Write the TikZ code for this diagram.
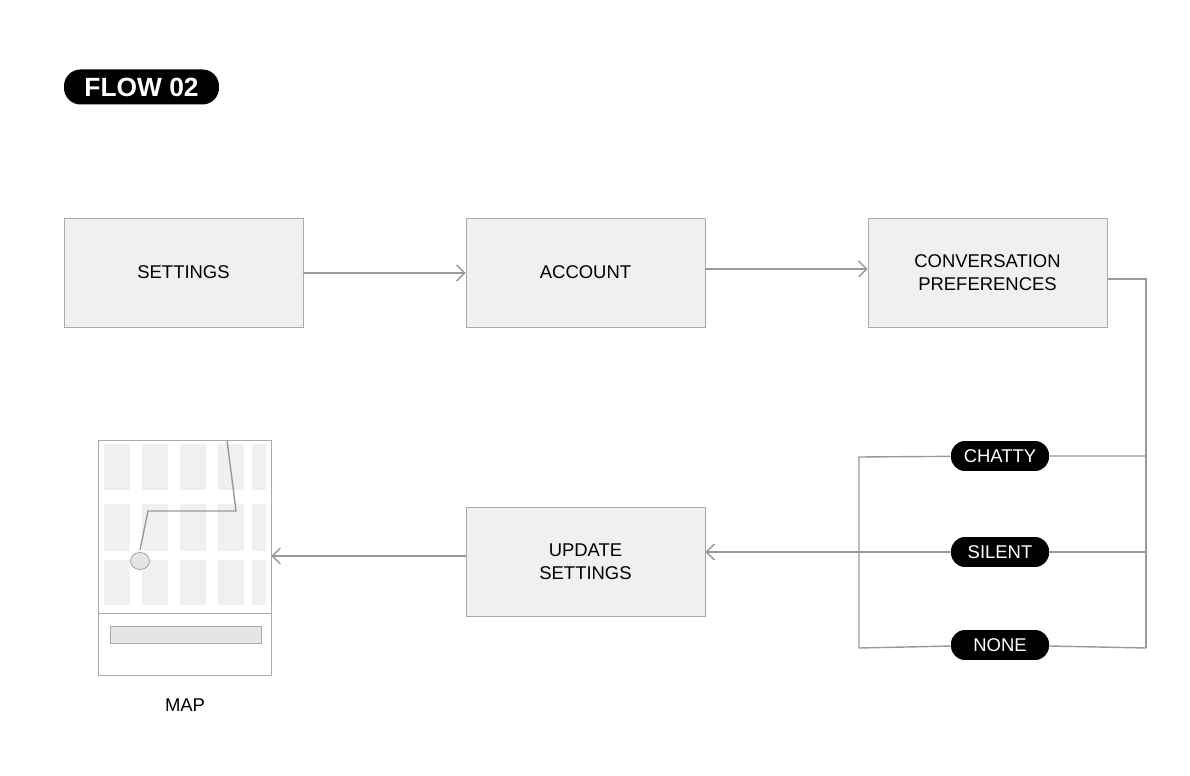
\documentclass[tikz,border=0pt]{standalone}
\usepackage{fontspec}
\setmainfont{Liberation Sans}
\usetikzlibrary{positioning,arrows.meta,shapes.geometric}
\definecolor{boxfill}{HTML}{F0F0F0}
\definecolor{boxline}{HTML}{AAAAAA}
\definecolor{wire}{HTML}{999999}
\definecolor{block}{HTML}{F0F0F0}
\begin{document}
\begin{tikzpicture}
[x=0.02cm,y=-0.02cm,
 screen/.style={rectangle,draw=boxline,fill=boxfill,minimum width=4.78cm,minimum height=2.18cm,inner sep=0mm,font=\fontsize{10.5}{13}\selectfont,align=center},
 pill/.style={rectangle,rounded corners=2.8mm,fill=black,text=white,minimum width=1.96cm,minimum height=0.6cm,inner sep=0mm,font=\fontsize{10.5}{13}\selectfont},
 link/.style={draw=wire,thick},
 tip/.style={link,-{Straight Barb[length=1.6mm,width=3.2mm]}}]
\useasboundingbox (0,0) rectangle (1190,776);
\node[pill,minimum width=3.1cm,minimum height=0.7cm,rounded corners=3.3mm,font=\bfseries\fontsize{15}{18}\selectfont] (title) at (141.5,87) {FLOW 02};
% screens
\node[screen] (settings) at (183.5,272.5) {SETTINGS};
\node[screen] (account)  at (585.5,272.5) {ACCOUNT};
\node[screen] (prefs)    at (987.5,272.5) {CONVERSATION\\PREFERENCES};
\node[screen] (update)   at (585.5,562)   {UPDATE\\SETTINGS};
% choices
\node[pill] (chatty) at (1000,456) {CHATTY};
\node[pill] (silent) at (1000,552) {SILENT};
\node[pill] (none)   at (1000,645) {NONE};
\coordinate (fork)  at (1146,279);
\coordinate (forkN) at (1146,648);
\coordinate (join)  at (859,457);
\coordinate (joinN) at (859,648);
\draw[tip] (settings.east |- 0,273) -- (account.west |- 0,273);
\draw[tip] (account.east |- 0,269) -- (prefs.west |- 0,269);
\draw[link] (prefs.east |- fork) -- (fork) -- (forkN);
\draw[link] (fork |- chatty) -- (chatty) -- (join) -- (joinN) -- (none) -- (forkN);
\draw[link] (fork |- silent) -- (silent);
\draw[tip] (silent) -- (update.east |- silent);
% map
\node[rectangle,draw=boxline,fill=white,minimum width=3.46cm,minimum height=4.7cm,inner sep=0mm] (map) at (184.5,557.5) {};
\foreach \xa/\xb in {104/130,142/168,180/206,218/244,252/266}
  \foreach \ya/\yb in {444/490,504/551,560/605}
    \fill[block] (\xa,\ya) rectangle (\xb,\yb);
\draw[boxline] (98,613) -- (271,613);
\draw[boxline,fill=gray!20] (110,626) rectangle (261,643);
\draw[wire,thick] (227,440) -- (236,511) -- (148,511) -- (140,550);
\node[ellipse,draw=wire,fill=gray!20,minimum width=0.38cm,minimum height=0.34cm,inner sep=0mm] (pin) at (140,561) {};
\draw[tip] (update.west |- 0,556) -- (map.east |- 0,556);
\node[font=\fontsize{10.5}{13}\selectfont] (maplabel) at (185,705) {MAP};
\end{tikzpicture}
\end{document}
